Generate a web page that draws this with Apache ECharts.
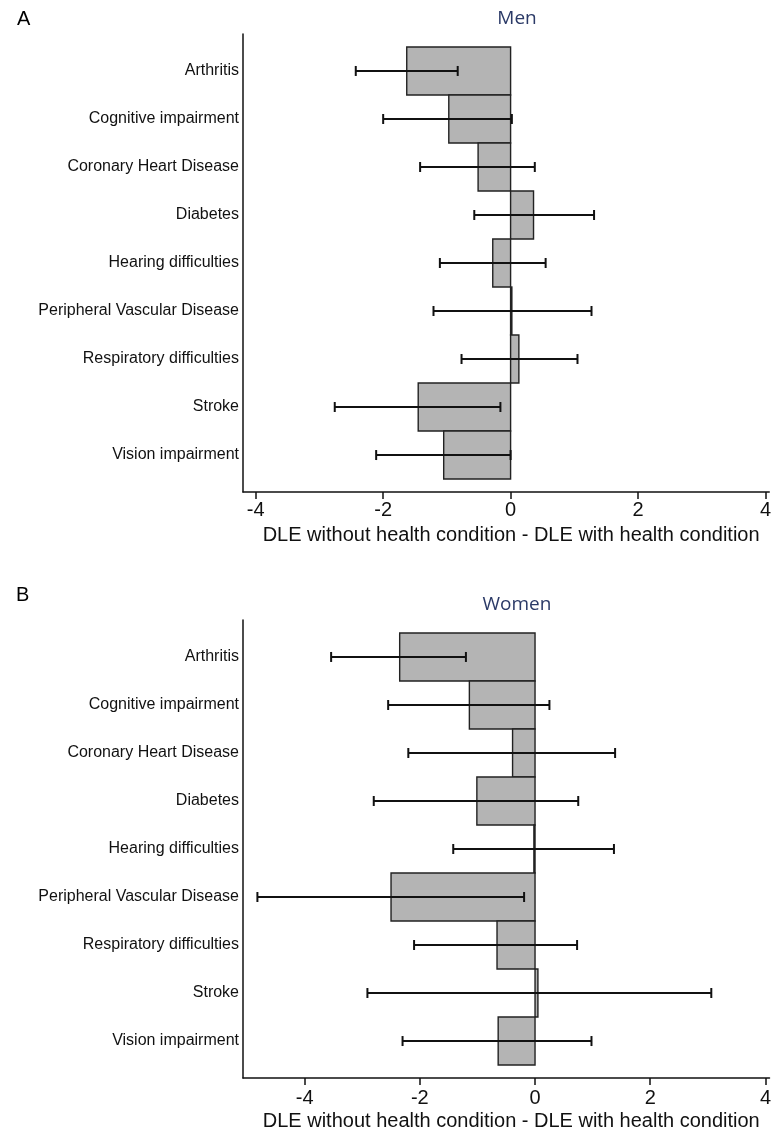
<!DOCTYPE html>
<html>
<head>
<meta charset="utf-8">
<script src="https://cdn.jsdelivr.net/npm/echarts@6/dist/echarts.min.js"></script>
<style>
  html, body { margin: 0; padding: 0; background: #fff; }
  #chart { width: 774px; height: 1133px; }
</style>
</head>
<body>
<div id="chart"></div>
<script>
const categories = [
  'Arthritis',
  'Cognitive impairment',
  'Coronary Heart Disease',
  'Diabetes',
  'Hearing difficulties',
  'Peripheral Vascular Disease',
  'Respiratory difficulties',
  'Stroke',
  'Vision impairment'
]

// Men: estimate and confidence interval
const menEst = [-1.63, -0.97, -0.51, 0.36, -0.28, 0.02, 0.13, -1.45, -1.05]
const menLow = [-2.43, -2.00, -1.42, -0.57, -1.11, -1.21, -0.77, -2.76, -2.11]
const menHigh = [-0.83, 0.02, 0.38, 1.31, 0.55, 1.27, 1.05, -0.16, 0.00]

// Women: estimate and confidence interval
const womenEst = [-2.35, -1.14, -0.39, -1.01, -0.02, -2.50, -0.66, 0.05, -0.64]
const womenLow = [-3.54, -2.55, -2.20, -2.80, -1.42, -4.82, -2.10, -2.91, -2.30]
const womenHigh = [-1.20, 0.25, 1.39, 0.75, 1.37, -0.19, 0.73, 3.06, 0.98]

const xTicks = [-4, -2, 0, 2, 4]
const axisTitle = 'DLE without health condition - DLE with health condition'

const chart = echarts.init(document.getElementById('chart'))

const toRows = (est, low, high) => est.map((v, i) => [i, v, low[i], high[i]])

function renderBar(params, api) {
  const idx = api.value(0)
  const est = api.value(1)
  const lo = api.value(2)
  const hi = api.value(3)
  const p0 = api.coord([0, idx])
  const pe = api.coord([est, idx])
  const pl = api.coord([lo, idx])
  const ph = api.coord([hi, idx])
  const band = Math.abs(api.size([0, 1])[1])
  const cap = 5
  return {
    type: 'group',
    children: [
      {
        type: 'rect',
        shape: {
          x: Math.min(p0[0], pe[0]),
          y: p0[1] - band / 2,
          width: Math.abs(pe[0] - p0[0]),
          height: band
        },
        style: { fill: '#b4b4b4', stroke: '#222', lineWidth: 1.4 }
      },
      {
        type: 'line',
        shape: { x1: pl[0], y1: pl[1], x2: ph[0], y2: ph[1] },
        style: { stroke: '#111', lineWidth: 2 }
      },
      {
        type: 'line',
        shape: { x1: pl[0], y1: pl[1] - cap, x2: pl[0], y2: pl[1] + cap },
        style: { stroke: '#111', lineWidth: 2 }
      },
      {
        type: 'line',
        shape: { x1: ph[0], y1: ph[1] - cap, x2: ph[0], y2: ph[1] + cap },
        style: { stroke: '#111', lineWidth: 2 }
      }
    ]
  }
}

function xAxisFor(gridIndex, min, max, margin) {
  return {
    type: 'value',
    gridIndex,
    min,
    max,
    axisLine: { show: true, onZero: false, lineStyle: { color: '#111', width: 1.5 } },
    axisTick: { show: true, length: 7, customValues: xTicks, lineStyle: { color: '#111', width: 1.5 } },
    axisLabel: {
      customValues: xTicks,
      margin,
      fontSize: 20,
      color: '#111',
      fontFamily: 'Liberation Sans'
    },
    splitLine: { show: false },
    name: axisTitle,
    nameLocation: 'middle',
    nameGap: 33,
    nameTextStyle: { fontSize: 20, color: '#111', fontFamily: 'Liberation Sans', padding: [0, 0, 0, 10] }
  }
}

function yAxisFor(gridIndex) {
  return {
    type: 'value',
    gridIndex,
    inverse: true,
    min: -0.77,
    max: 8.77,
    axisLine: { show: true, onZero: false, lineStyle: { color: '#111', width: 1.5 } },
    axisTick: { show: false },
    splitLine: { show: false },
    axisLabel: {
      customValues: categories.map((c, i) => i),
      formatter: v => categories[Math.round(v)],
      margin: 4,
      fontSize: 16,
      color: '#111',
      fontFamily: 'Liberation Sans'
    }
  }
}

const panelTitle = { fontSize: 20, fontWeight: 'normal', color: '#000', fontFamily: 'Liberation Sans' }
const groupTitle = { fontSize: 19, fontWeight: 'normal', color: '#2b3a67', fontFamily: 'Open Sans' }

chart.setOption({
  animation: false,
  backgroundColor: '#fff',
  title: [
    { text: 'A', left: 12, top: 4, textStyle: panelTitle },
    { text: 'Men', left: 512, top: 4, textAlign: 'center', textStyle: groupTitle },
    { text: 'B', left: 11, top: 580, textStyle: panelTitle },
    { text: 'Women', left: 512, top: 590, textAlign: 'center', textStyle: groupTitle }
  ],
  grid: [
    { left: 243, right: 2, top: 34, height: 458 },
    { left: 243, right: 2, top: 620, height: 458 }
  ],
  xAxis: [
    xAxisFor(0, -4.2, 4.06, 8),
    xAxisFor(1, -5.07, 4.07, 10)
  ],
  yAxis: [yAxisFor(0), yAxisFor(1)],
  series: [
    {
      type: 'custom',
      xAxisIndex: 0,
      yAxisIndex: 0,
      renderItem: renderBar,
      encode: { x: [1, 2, 3], y: 0 },
      data: toRows(menEst, menLow, menHigh)
    },
    {
      type: 'custom',
      xAxisIndex: 1,
      yAxisIndex: 1,
      renderItem: renderBar,
      encode: { x: [1, 2, 3], y: 0 },
      data: toRows(womenEst, womenLow, womenHigh)
    }
  ]
})

window.addEventListener('resize', () => chart.resize())
</script>
</body>
</html>
